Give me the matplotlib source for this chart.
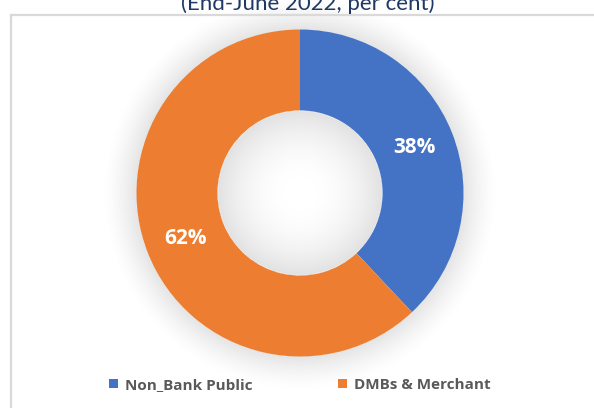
import numpy as np
import matplotlib
matplotlib.use("Agg")
import matplotlib.pyplot as plt
from matplotlib.patches import Patch
from matplotlib.lines import Line2D

plt.rcParams['font.family'] = ['Lato', 'DejaVu Sans']

# data
labels = ['Non_Bank Public', 'DMBs & Merchant']
shares = [38, 62]
colors = ['#4472C4', '#ED7D31']
title = '(End-June 2022, per cent)'

W, H = 594, 408
fig = plt.figure(figsize=(W / 100, H / 100), dpi=100)
fig.patch.set_facecolor('white')

# chart area border (light gray, cut off at right and bottom)
fig.add_artist(Line2D([10.5 / W, 10.5 / W], [-0.1, 1 - 14.5 / H],
                      transform=fig.transFigure, color='#D9D9D9', lw=1.6))
fig.add_artist(Line2D([10.5 / W, 1.1], [1 - 14.5 / H, 1 - 14.5 / H],
                      transform=fig.transFigure, color='#D9D9D9', lw=1.6))

# axes with pie centred at (300, 193) px, outer radius 163.5 px
cx, cy, R = 300, 193, 163.5
half = 210
ax = fig.add_axes([(cx - half) / W, (H - cy - half) / H, 2 * half / W, 2 * half / H])
lim = half / R

hole = 0.505

wedges, _ = ax.pie(shares, colors=colors, startangle=90, counterclock=False,
                   radius=1, wedgeprops=dict(width=1 - hole, edgecolor='none'))
for w in wedges:
    w.set_zorder(2)

# soft shadow: outer glow + inner shadow of the hole
n = 400
g = np.linspace(-lim, lim, n)
xx, yy = np.meshgrid(g, g)
rr = np.hypot(xx, yy)
alpha = np.zeros_like(rr)
out = (rr >= 1.0) & (rr < 1.22)
alpha[out] = 0.11 * (1 - (rr[out] - 1.0) / 0.22) ** 1.5
inn = rr < hole
alpha[inn] = 0.12 * (rr[inn] / hole) ** 2.2
img = np.zeros((n, n, 4))
img[..., 3] = alpha
ax.imshow(img, extent=(-lim, lim, -lim, lim), origin='lower', zorder=0,
          interpolation='bilinear')

ax.set_xlim(-lim, lim)
ax.set_ylim(-lim, lim)
ax.set_aspect('equal')
ax.axis('off')

# percentage labels in the middle of the ring
mid_r = (1 + hole) / 2
start = 90
for s in shares:
    ang = np.deg2rad(start - s * 3.6 / 2)
    ax.text(mid_r * np.cos(ang), mid_r * np.sin(ang), f'{s}%',
            ha='center', va='center', color='white', fontsize=15,
            fontweight='bold', family='Open Sans', zorder=3)
    start -= s * 3.6

# title, cut off at the top
fig.text(308 / W, 1 - 10 / H, title, ha='center', va='baseline',
         fontsize=16, color='#1F3864')

handles = [Patch(facecolor=c, edgecolor='none', label=l) for l, c in zip(labels, colors)]
leg = fig.legend(handles=handles, loc='center', bbox_to_anchor=(300 / W, 1 - 385 / H),
                 ncol=2, frameon=False, prop=dict(family='Open Sans', weight='bold', size=11),
                 handlelength=0.6, handleheight=0.6, handletextpad=0.45,
                 columnspacing=5.6)
for t in leg.get_texts():
    t.set_color('#595959')

fig.savefig('out.png', dpi=100)
